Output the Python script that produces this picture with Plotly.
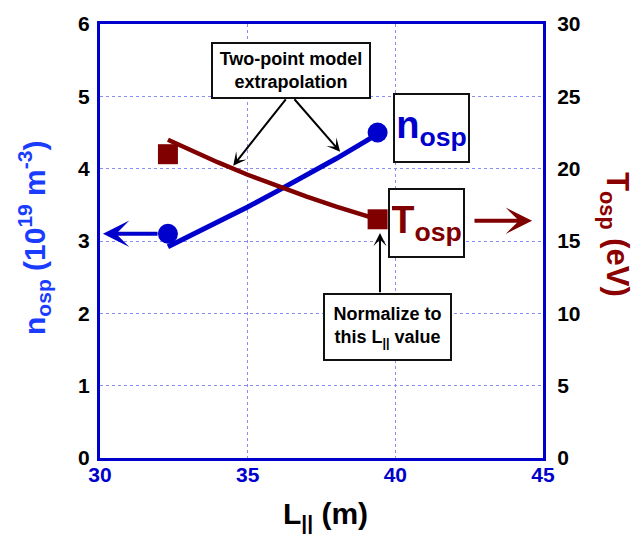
import plotly.graph_objects as go

# ---- data ----
L_line = [32.3, 33.0, 34.0, 35.0, 36.0, 37.0, 38.0, 39.0, 39.4]
n_line = [2.92, 3.06, 3.26, 3.47, 3.69, 3.91, 4.14, 4.38, 4.48]
T_line = [22.0, 21.33, 20.43, 19.58, 18.80, 18.07, 17.38, 16.74, 16.49]
L_pts = [32.3, 39.4]
n_pts = [3.1, 4.5]
T_pts = [21.0, 16.5]

x_ticks = [30, 35, 40, 45]
y_ticks = [0, 1, 2, 3, 4, 5, 6]
y2_ticks = [0, 5, 10, 15, 20, 25, 30]

BLUE = "#0000cc"
BLUE_T = "#1a3cff"
RED = "#800000"
FONT = "Liberation Sans, Arial, sans-serif"
GRID = "#8c8cf5"

fig = go.Figure()
fig.add_trace(go.Scatter(x=L_line, y=n_line, mode="lines",
                         line=dict(color=BLUE, width=5), showlegend=False))
fig.add_trace(go.Scatter(x=L_line, y=T_line, mode="lines", yaxis="y2",
                         line=dict(color=RED, width=4.5), showlegend=False))
fig.add_trace(go.Scatter(x=L_pts, y=n_pts, mode="markers",
                         marker=dict(color=BLUE, size=20, symbol="circle"), showlegend=False))
fig.add_trace(go.Scatter(x=L_pts, y=T_pts, mode="markers", yaxis="y2",
                         marker=dict(color=RED, size=20, symbol="square"), showlegend=False))

tickfont = dict(family=FONT, size=21, color="black", weight="bold")

fig.update_layout(
    width=635, height=537,
    margin=dict(l=100, r=92, t=24, b=79),
    paper_bgcolor="white", plot_bgcolor="white",
    xaxis=dict(range=[30, 45], tickvals=x_ticks, ticks="", showgrid=True,
               gridcolor=GRID, griddash="dot", gridwidth=1,
               showline=True, linecolor=BLUE, linewidth=3, mirror=True,
               zeroline=False, ticklabelstandoff=-4,
               tickfont=dict(family=FONT, size=21, color=BLUE, weight="bold")),
    yaxis=dict(range=[0, 6], tickvals=y_ticks, ticks="", showgrid=True,
               gridcolor=GRID, griddash="dot", gridwidth=1,
               showline=True, linecolor=BLUE, linewidth=3, mirror=True,
               zeroline=False, ticklabelstandoff=3, tickfont=tickfont),
    yaxis2=dict(range=[0, 30], tickvals=y2_ticks, ticks="", overlaying="y",
                side="right", showgrid=False, showline=True, linecolor=BLUE,
                linewidth=3, zeroline=False, ticklabelstandoff=7, tickfont=tickfont),
)

ann = []
# axis titles
ann.append(dict(text="n<sub>osp</sub> (10<sup>19</sup> m<sup>-3</sup>)", textangle=-90,
                xref="paper", yref="paper", x=-0.149, y=0.507, showarrow=False,
                xanchor="center", yanchor="middle",
                font=dict(family=FONT, size=30, color=BLUE_T, weight="bold")))
ann.append(dict(text="T<sub>osp</sub> (eV)", textangle=90,
                xref="paper", yref="paper", x=1.162, y=0.514, showarrow=False,
                xanchor="center", yanchor="middle",
                font=dict(family=FONT, size=31, color="#8b0000", weight="bold")))
ann.append(dict(text="L<sub>||</sub> (m)",
                xref="paper", yref="paper", x=0.509, y=-0.132, showarrow=False,
                xanchor="center", yanchor="middle",
                font=dict(family=FONT, size=30, color="black", weight="bold")))

# boxes
boxfont = dict(family=FONT, size=18, color="black", weight="bold")
ann.append(dict(text="Two-point model<br>extrapolation", x=36.48, y=5.36, xref="x", yref="y",
                showarrow=False, width=152, height=49, bordercolor="#111", borderwidth=2,
                borderpad=2, bgcolor="white", font=boxfont, align="center"))
ann.append(dict(text="Normalize to<br>this L<sub>||</sub> value", x=39.72, y=1.81, xref="x", yref="y",
                showarrow=False, width=121, height=60, bordercolor="#111", borderwidth=2,
                borderpad=2, bgcolor="white", font=boxfont, align="center"))
ann.append(dict(text="n<sub>osp</sub>", x=41.21, y=4.56, xref="x", yref="y",
                showarrow=False, width=69, height=62, bordercolor="#111", borderwidth=2,
                borderpad=2, bgcolor="white", align="center",
                font=dict(family=FONT, size=38, color=BLUE, weight="bold")))
ann.append(dict(text="T<sub>osp</sub>", x=41.07, y=3.25, xref="x", yref="y",
                showarrow=False, width=69, height=62, bordercolor="#111", borderwidth=2,
                borderpad=2, bgcolor="white", align="center",
                font=dict(family=FONT, size=38, color=RED, weight="bold")))

# arrows
def arrow(x, y, ax, ay, color, width, yref="y", size=1.1):
    return dict(x=x, y=y, ax=ax, ay=ay, xref="x", yref=yref, axref="x", ayref=yref,
                text="", showarrow=True, arrowhead=3, arrowsize=size,
                arrowwidth=width, arrowcolor=color)

ann.append(arrow(34.51, 4.04, 36.33, 4.98, "black", 2))
ann.append(arrow(38.13, 4.235, 36.54, 4.98, "black", 2))
ann.append(arrow(39.48, 3.11, 39.48, 2.27, "black", 2))
ann.append(arrow(30.1, 3.1, 32.0, 3.1, BLUE, 4))
ann.append(arrow(44.63, 16.4, 42.63, 16.4, RED, 4, yref="y2"))

fig.update_layout(annotations=ann)
fig.write_html("out.html")
